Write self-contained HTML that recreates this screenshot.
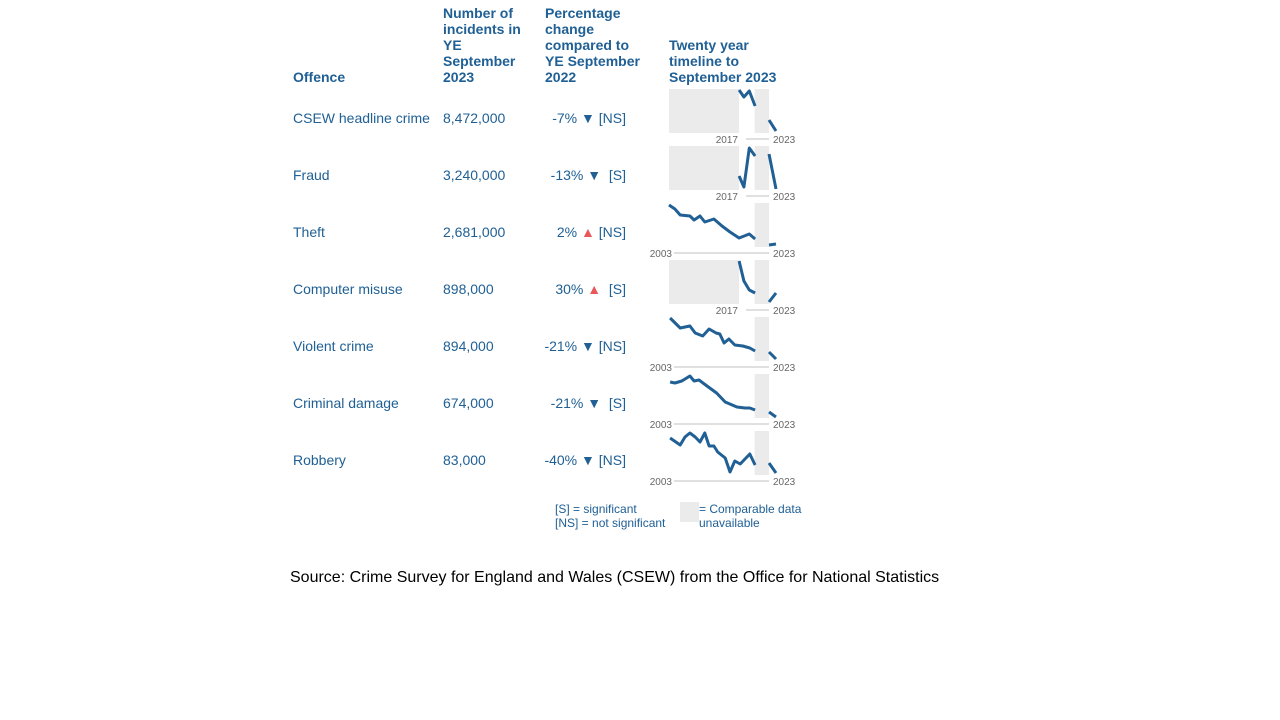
<!DOCTYPE html>
<html><head><meta charset="utf-8"><style>
body{margin:0;width:1280px;height:720px;background:#fff;font-family:"Liberation Sans",sans-serif;position:relative;overflow:hidden}
.t{position:absolute;color:#206095;font-size:14px;line-height:16px;white-space:nowrap}
.h{font-weight:bold}
.pct{text-align:right;width:200px}
</style></head><body>
<div class="t h" style="left:293px;top:69px">Offence</div>
<div class="t h" style="left:443px;top:5px">Number of<br>incidents in<br>YE<br>September<br>2023</div>
<div class="t h" style="left:545px;top:5px">Percentage<br>change<br>compared to<br>YE September<br>2022</div>
<div class="t h" style="left:669px;top:37px">Twenty year<br>timeline to<br>September 2023</div>
<div id="rows"></div>
<svg id="spark" width="1280" height="720" style="position:absolute;left:0;top:0"></svg>
<div class="t" style="left:555px;top:502px;font-size:12px;line-height:14px">[S] = significant<br>[NS] = not significant</div>
<div style="position:absolute;left:680px;top:502px;width:19px;height:20px;background:#ebebeb"></div>
<div class="t" style="left:699px;top:502px;font-size:12px;line-height:14px">= Comparable data<br>unavailable</div>
<div style="position:absolute;left:290px;top:569px;font-size:16px;color:#000">Source: Crime Survey for England and Wales (CSEW) from the Office for National Statistics</div>
<script>
const offences=["CSEW headline crime","Fraud","Theft","Computer misuse","Violent crime","Criminal damage","Robbery"];
const incidents=["8,472,000","3,240,000","2,681,000","898,000","894,000","674,000","83,000"];
const changes=["-7%","-13%","2%","30%","-21%","-21%","-40%"];
const sig=["NS","S","NS","S","NS","S","NS"];
const startYears=[2017,2017,2003,2017,2003,2003,2003];
const yearsCSEW=[2016.1,2017,2018,2019.1,null,2021.7,2023];
const valsCSEW=[43,36,42,27,null,13,2];
const yearsFraud=[2016.1,2017,2018,2019.1,null,2021.7,2023];
const valsFraud=[14,3,42,34,null,36,1];
const yearsTheft=[2003,2004.1,2005.1,2006.9,2007.7,2008.8,2009.7,2011.4,2012.9,2014.4,2016.1,2018,2019.1,null,2021.7,2023];
const valsTheft=[42,38,32,31,27,31,25,28,21,15,9,13,8,null,2,3];
const yearsCM=[2016.1,2017,2018,2019.1,null,2021.7,2023];
const valsCM=[43,23,14,11,null,2,11];
const yearsViolent=[2003.2,2005.1,2006.9,2007.9,2009.3,2010.5,2011.8,2012.5,2013.3,2014.2,2015.3,2016.8,2018.1,2019.1,null,2021.7,2023];
const valsViolent=[43,33,35,28,25,32,28,27,18,22,16,15,13,10,null,9,2];
const yearsDamage=[2003.2,2004.1,2005.4,2006.9,2007.7,2008.6,2010.1,2011.9,2013.5,2015.7,2017.2,2018.1,2019.1,null,2021.7,2023];
const valsDamage=[36,35,37,42,37,38,32,25,16,11,10,10,8,null,6,1];
const yearsRobbery=[2003.2,2005.1,2006,2006.9,2007.9,2008.8,2009.7,2010.5,2011.4,2012.1,2013.5,2014.4,2015.3,2016.3,2018.1,2019.1,null,2021.7,2023];
const valsRobbery=[37,30,38,42,38,33,42,29,29,23,17,3,14,11,21,10,null,12,2];
const seriesYears=[yearsCSEW,yearsFraud,yearsTheft,yearsCM,yearsViolent,yearsDamage,yearsRobbery];
const seriesVals=[valsCSEW,valsFraud,valsTheft,valsCM,valsViolent,valsDamage,valsRobbery];

const ROW0=110,STEP=57,BOXTOP=89,BOXH=44;
const xs=y=>669+(y-2003)*5.35;
const ys=(v,i)=>BOXTOP+i*STEP+BOXH-v;
const rows=document.getElementById('rows');
const svg=document.getElementById('spark');
const NS='http://www.w3.org/2000/svg';
function mk(tag,attrs){const e=document.createElementNS(NS,tag);for(const k in attrs)e.setAttribute(k,attrs[k]);svg.appendChild(e);return e;}
offences.forEach((o,i)=>{
  const top=ROW0+i*STEP;
  let d=document.createElement('div');d.className='t';d.style.left='293px';d.style.top=top+'px';d.textContent=o;
  
  
  rows.appendChild(d);
  d=document.createElement('div');d.className='t';d.style.left='443px';d.style.top=top+'px';d.textContent=incidents[i];
  
  
  rows.appendChild(d);
  d=document.createElement('div');d.className='t pct';d.style.left='426px';d.style.top=top+'px';
  const up=!changes[i].startsWith('-');
  d.innerHTML=changes[i]+' <span style="color:'+(up?'#e8575a':'#206095')+'">'+(up?'▲':'▼')+'</span> '+(sig[i]==='S'?'&nbsp;[S]':'[NS]');
  
  
  rows.appendChild(d);
  const bt=BOXTOP+i*STEP;
  if(startYears[i]===2017){
    const r=mk('rect',{x:xs(2003),y:bt,width:xs(2016.1)-xs(2003),height:BOXH,fill:'#ebebeb'});
    
    
  }
  const r2=mk('rect',{x:xs(2019),y:bt,width:xs(2021.7)-xs(2019),height:BOXH,fill:'#ebebeb'});
  
  
  const ay=bt+BOXH+6;
  const lx=startYears[i]===2017?746:674;
  const ax=mk('line',{x1:lx,x2:769,y1:ay,y2:ay,stroke:'#e0e0e0','stroke-width':2});
  
  
  const t1=mk('text',{x:startYears[i]===2017?738:672,y:ay+4,'font-size':10,fill:'#666','text-anchor':'end','font-family':'Liberation Sans, sans-serif'});
  t1.textContent=String(startYears[i]);
  
  
  const t2=mk('text',{x:773,y:ay+4,'font-size':10,fill:'#666','font-family':'Liberation Sans, sans-serif'});
  t2.textContent='2023';
  
  
  let dstr='',pen=false;
  seriesYears[i].forEach((yr,j)=>{
    if(yr===null){pen=false;return;}
    dstr+=(pen?'L':'M')+xs(yr).toFixed(1)+','+ys(seriesVals[i][j],i).toFixed(1);pen=true;
  });
  const p=mk('path',{d:dstr,fill:'none',stroke:'#206095','stroke-width':3,'stroke-linejoin':'round'});
  
  
});
</script>
</body></html>
